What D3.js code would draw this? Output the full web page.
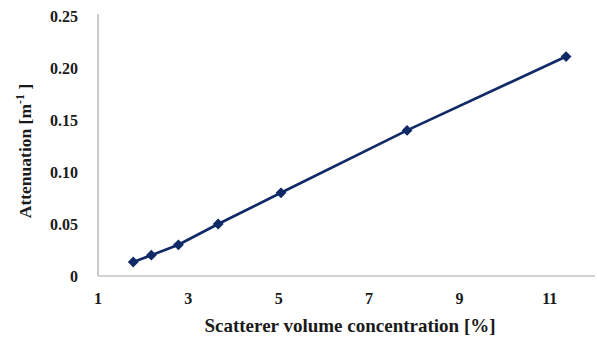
<!DOCTYPE html>
<html>
<head>
<meta charset="utf-8">
<script src="https://cdn.jsdelivr.net/npm/d3@7"></script>
<style>
  body { margin: 0; background: #fff; }
  text { font-family: "Liberation Serif", "Times New Roman", serif; font-weight: bold; fill: #1a1a1a; }
</style>
</head>
<body>
<script>
// data
var concentration = [1.78, 2.18, 2.78, 3.66, 5.05, 7.84, 11.36];
var attenuation = [0.0135, 0.020, 0.030, 0.050, 0.080, 0.140, 0.211];
var xTicks = [1, 3, 5, 7, 9, 11];
var yTicks = [0, 0.05, 0.10, 0.15, 0.20, 0.25];
var yTickLabels = ["0", "0.05", "0.10", "0.15", "0.20", "0.25"];

var width = 597, height = 337;
var svg = d3.select("body").append("svg")
    .attr("width", width)
    .attr("height", height);

var x = d3.scaleLinear().domain([1, 12]).range([98, 595]);
var y = d3.scaleLinear().domain([0, 0.25]).range([276, 16]);

// axis lines
svg.append("line")
    .attr("x1", x(1)).attr("x2", x(1))
    .attr("y1", 14).attr("y2", y(0))
    .attr("stroke", "#a6a6a6").attr("stroke-width", 1.2)
svg.append("line")
    .attr("x1", x(1)).attr("x2", x(12))
    .attr("y1", y(0)).attr("y2", y(0))
    .attr("stroke", "#a6a6a6").attr("stroke-width", 1.2)

// tick labels
svg.selectAll(".xt").data(xTicks).enter().append("text")
    .attr("class", "xt")
    .attr("x", function(d) { return x(d); })
    .attr("y", 304)
    .attr("text-anchor", "middle")
    .style("font-size", "16px")
    .text(function(d) { return d; })

svg.selectAll(".yt").data(yTicks).enter().append("text")
    .attr("class", "yt")
    .attr("x", 78)
    .attr("y", function(d) { return y(d) + 5.5; })
    .attr("text-anchor", "end")
    .style("font-size", "16px")
    .text(function(d, i) { return yTickLabels[i]; })

// axis titles
svg.append("text")
    .attr("x", 350)
    .attr("y", 332)
    .attr("text-anchor", "middle")
    .style("font-size", "19px")
    .text("Scatterer volume concentration [%]")

var yt = svg.append("text")
    .attr("transform", "translate(31,151) rotate(-90)")
    .attr("text-anchor", "middle")
    .style("font-size", "17.5px")
yt.append("tspan").text("Attenuation [m")
yt.append("tspan").attr("dy", -7).style("font-size", "12px").text("-1")
yt.append("tspan").attr("dy", 7).text(" ]")

// line + markers
var pts = concentration.map(function(c, i) { return [c, attenuation[i]]; });
var line = d3.line()
    .x(function(d) { return x(d[0]); })
    .y(function(d) { return y(d[1]); });

svg.append("path")
    .datum(pts)
    .attr("d", line)
    .attr("fill", "none")
    .attr("stroke", "#0f2a66")
    .attr("stroke-width", 2.7)

svg.selectAll(".pt").data(pts).enter().append("path")
    .attr("class", "pt")
    .attr("transform", function(d) { return "translate(" + x(d[0]) + "," + y(d[1]) + ")"; })
    .attr("d", d3.symbol().type(d3.symbolDiamond2).size(75))
    .attr("fill", "#0f2a66")
</script>
</body>
</html>
